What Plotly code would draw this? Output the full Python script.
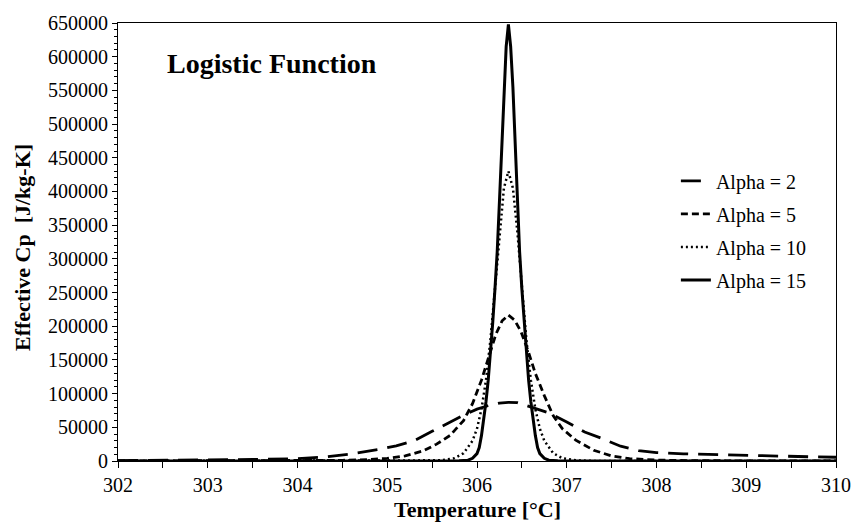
import plotly.graph_objects as go

# Temperature [°C] / Effective Cp [J/kg-K]
x_a2 = [302.0, 302.5, 303.0, 303.5, 304.0, 304.3, 304.6, 304.9, 305.1, 305.3, 305.5, 305.7, 305.85,
        306.0, 306.12, 306.25, 306.35, 306.45, 306.6, 306.8, 307.0, 307.2, 307.4, 307.6, 307.8,
        308.0, 308.3, 308.6, 309.0, 309.4, 309.8, 310.0]
y_a2 = [600, 900, 1400, 2200, 3500, 5800, 10500, 17000, 22500, 30000, 44000, 58000, 68000,
        77000, 82000, 86000, 87000, 86500, 80000, 71500, 58000, 43000, 33000, 22000, 15500,
        12500, 10600, 9500, 8200, 7000, 6000, 5600]

x_a5 = [302.0, 303.0, 304.0, 304.5, 304.8, 305.0, 305.2, 305.4, 305.55, 305.7, 305.85, 305.95,
        306.05, 306.13, 306.21, 306.28, 306.35, 306.42, 306.49, 306.57, 306.65, 306.75, 306.85,
        306.95, 307.1, 307.3, 307.5, 307.7, 308.0, 308.5, 309.0, 310.0]
y_a5 = [0, 50, 300, 1000, 2200, 3800, 7500, 15000, 25000, 38000, 60000, 85000,
        120000, 155000, 188000, 208000, 216500, 209000, 192000, 163000, 130000, 97000, 67000,
        48000, 31000, 16000, 7500, 3500, 1300, 400, 100, 0]

x_a10 = [302.0, 305.0, 305.4, 305.6, 305.75, 305.85, 305.95, 306.0, 306.05, 306.1, 306.15, 306.2,
         306.25, 306.3, 306.35, 306.4, 306.45, 306.5, 306.55, 306.6, 306.65, 306.7, 306.75,
         306.85, 306.95, 307.1, 307.3, 307.7, 310.0]
y_a10 = [0, 10, 150, 1000, 4200, 11500, 30000, 48000, 77000, 120000, 180000, 257000,
         340000, 405000, 430000, 405000, 340000, 257000, 180000, 120000, 77000, 48000, 30000,
         11500, 4200, 1000, 150, 10, 0]

x_a15 = [302.0, 305.55, 305.8, 305.9, 305.95, 306.0, 306.025, 306.05, 306.075, 306.1, 306.125,
         306.15, 306.175, 306.2, 306.225, 306.25, 306.275, 306.3, 306.325, 306.35,
         306.375, 306.4, 306.425, 306.45, 306.475, 306.5, 306.525, 306.55, 306.575, 306.6,
         306.625, 306.65, 306.675, 306.7, 306.75, 306.8, 306.9, 307.15, 310.0]
y_a15 = [0, 0, 200, 1200, 4000, 11000, 20000, 38000, 62000, 88000, 120000,
         160000, 205000, 255000, 310000, 385000, 465000, 555000, 615000, 648000,
         615000, 555000, 465000, 385000, 310000, 255000, 205000, 160000, 120000, 88000,
         62000, 38000, 20000, 11000, 4000, 1200, 200, 0, 0]

series_names = ["Alpha = 2", "Alpha = 5", "Alpha = 10", "Alpha = 15"]
x_ticks = [302, 303, 304, 305, 306, 307, 308, 309, 310]
y_ticks = list(range(0, 650001, 50000))

FONT = "'Times New Roman', 'Liberation Serif', serif"
styles = [("20px,10px", 2.8), ("7px,4px", 2.8), ("2px,3px", 2.5), ("solid", 3.0)]

fig = go.Figure()
for (xs, ys), name, (dash, w) in zip(
        [(x_a2, y_a2), (x_a5, y_a5), (x_a10, y_a10), (x_a15, y_a15)], series_names, styles):
    fig.add_trace(go.Scatter(x=xs, y=ys, mode="lines", name=name, legendgroup=name,
                             line=dict(color="black", width=w, dash=dash)))

fig.update_layout(
    width=863, height=531,
    margin=dict(l=118, r=19, t=16, b=70),
    paper_bgcolor="white", plot_bgcolor="white",
    font=dict(family=FONT, size=18, color="black"),
    showlegend=True,
    legend=dict(x=0.777, y=0.684, xanchor="left", yanchor="top",
                bgcolor="rgba(0,0,0,0)", font=dict(family=FONT, size=20),
                tracegroupgap=4, traceorder="grouped"),
    annotations=[
        dict(text="<b>Logistic Function</b>", xref="paper", yref="paper", x=0.065, y=0.908,
             xanchor="left", yanchor="middle", showarrow=False, font=dict(family=FONT, size=28)),
        dict(text="<b>Temperature [°C]</b>", xref="paper", yref="paper", x=0.5, y=0, yshift=-48,
             xanchor="center", yanchor="middle", showarrow=False, font=dict(family=FONT, size=22)),
        dict(text="<b>Effective Cp&nbsp;&nbsp;[J/kg-K]</b>", xref="paper", yref="paper", x=0,
             xshift=-96, y=0.5, yshift=-6, xanchor="center", yanchor="middle", textangle=-90,
             showarrow=False, font=dict(family=FONT, size=22)),
    ],
)
fig.update_xaxes(range=[302, 310], tickvals=x_ticks, ticks="outside", ticklen=6, tickwidth=1,
                 tickcolor="black", showline=True, linecolor="black", linewidth=1, mirror=True,
                 showgrid=False, zeroline=False, tickfont=dict(family=FONT, size=20),
                 minor=dict(dtick=0.5, ticks="outside", ticklen=6, tickcolor="black", showgrid=False))
fig.update_yaxes(range=[0, 650000], tickvals=y_ticks, tickformat="d", ticks="outside", ticklen=5,
                 tickwidth=1, tickcolor="black", showline=True, linecolor="black", linewidth=1,
                 mirror=True, showgrid=False, zeroline=False, tickfont=dict(family=FONT, size=20),
                 minor=dict(dtick=10000, ticks="outside", ticklen=3, tickcolor="black", showgrid=False))

fig.write_html("out.html")
